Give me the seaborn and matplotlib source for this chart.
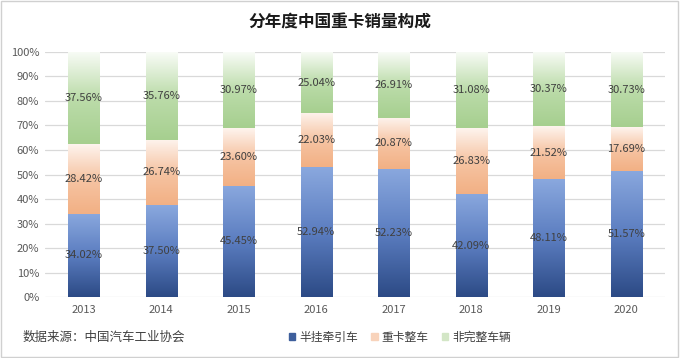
import numpy as np
import pandas as pd
import matplotlib
matplotlib.use("Agg")
import matplotlib.pyplot as plt
from matplotlib.colors import LinearSegmentedColormap
from matplotlib.patches import Rectangle
import seaborn as sns

years = ["2013", "2014", "2015", "2016", "2017", "2018", "2019", "2020"]
tractor = [34.02, 37.50, 45.45, 52.94, 52.23, 42.09, 48.11, 51.57]
truck = [28.42, 26.74, 23.60, 22.03, 20.87, 26.83, 21.52, 17.69]
incomplete = [37.56, 35.76, 30.97, 25.04, 26.91, 31.08, 30.37, 30.73]
series_names = ["半挂牵引车", "重卡整车", "非完整车辆"]

sns.set_theme(style="white")
plt.rcParams['font.family'] = ['Noto Sans CJK SC', 'DejaVu Sans']

# gradients: bottom -> middle -> top colour
grads = [["#2c4a85", "#5b7dc0", "#8aa8de"],
         ["#f2b084", "#f6c4a3", "#fef4ee"],
         ["#a6cf8f", "#bcdcaa", "#f9fcf7"]]
legend_cols = ["#3e5f9c", "#f8d3bb", "#d3e6c6"]

df = pd.DataFrame({"year": years, "a": tractor, "b": truck, "c": incomplete})

fig = plt.figure(figsize=(6.8, 3.58), dpi=100)
ax = fig.add_axes([0.066, 0.170, 0.912, 0.685])

bottoms = np.zeros(len(years))
for col, stops in zip(["a", "b", "c"], grads):
    n_before = len(ax.patches)
    sns.barplot(data=df, x="year", y=col, bottom=bottoms, width=0.4,
                color=stops[0], ax=ax, errorbar=None)
    cmap = LinearSegmentedColormap.from_list("g", list(zip([0, 0.5, 1], stops)))
    for p, v in zip(ax.patches[n_before:], df[col]):
        x0, y0 = p.get_x(), p.get_y()
        w, h = p.get_width(), p.get_height()
        grad = np.linspace(0, 1, 256).reshape(-1, 1)
        im = ax.imshow(grad, cmap=cmap, origin="lower", aspect="auto",
                       extent=[x0, x0 + w, y0, y0 + h], zorder=2)
        im.set_clip_path(p)
        p.set_facecolor("none")
        p.set_edgecolor("none")
        ax.text(x0 + w / 2, y0 + h / 2, f"{v:.2f}%", ha="center", va="center",
                fontsize=8, color="#404040", zorder=3)
    bottoms = bottoms + df[col].values

ax.set_xlim(-0.5, 7.5)
ax.set_ylim(0, 100)
ax.set_yticks(np.arange(0, 101, 10))
ax.set_yticklabels([f"{t}%" for t in range(0, 101, 10)])
ax.yaxis.grid(True, color="#d9d9d9", linewidth=0.9)
ax.set_axisbelow(True)
for s in ax.spines.values():
    s.set_visible(False)
ax.tick_params(axis="both", labelsize=8, colors="#595959", length=0, pad=6)
ax.tick_params(axis="y", pad=4)
ax.set_xlabel("")
ax.set_ylabel("")

fig.text(0.5, 0.937, "分年度中国重卡销量构成", ha="center", va="center",
         fontsize=12, fontweight="bold", color="#1a1a1a")
fig.text(0.033, 0.057, "数据来源：中国汽车工业协会", ha="left", va="center",
         fontsize=9, color="#404040")

handles = [Rectangle((0, 0), 1, 1, color=c) for c in legend_cols]
fig.legend(handles, series_names, loc="center", bbox_to_anchor=(0.588, 0.057),
           ncol=3, frameon=False, fontsize=8.5, handlelength=0.55,
           handleheight=0.55, handletextpad=0.35, columnspacing=1.1,
           labelcolor="#404040")

fig.patches.append(Rectangle((0.002, 0.003), 0.995, 0.994, transform=fig.transFigure,
                             fill=False, edgecolor="#d0d0d0", linewidth=1))

fig.savefig("out.png", dpi=100, facecolor="white")
